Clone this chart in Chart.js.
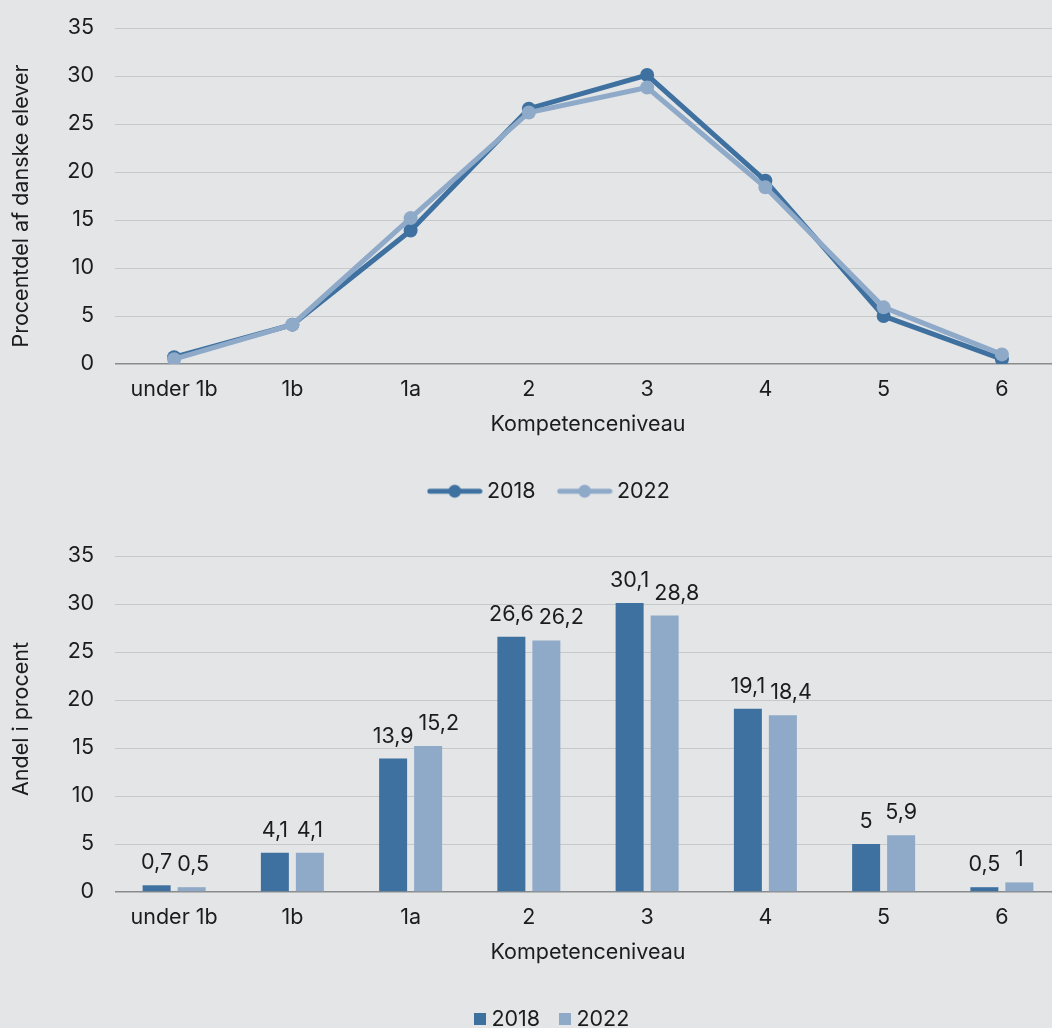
<!DOCTYPE html>
<html lang="da">
<head>
<meta charset="utf-8">
<title>Kompetenceniveau 2018 og 2022</title>
<script src="https://cdn.jsdelivr.net/npm/chart.js@4.4.1/dist/chart.umd.min.js"></script>
<style>
  html, body { margin: 0; padding: 0; width: 1052px; height: 1028px; overflow: hidden; background: #e4e5e7; }
  .panel { position: absolute; left: 0; width: 1061px; height: 528px; }
  #linePanel { top: 0; }
  #barPanel { top: 528px; }
</style>
</head>
<body>
<div class="panel" id="linePanel"><canvas id="lineChart" width="1061" height="528"></canvas></div>
<div class="panel" id="barPanel"><canvas id="barChart" width="1061" height="528"></canvas></div>
<script>
// Kompetenceniveauer (x-akse)
const levels = ['under 1b', '1b', '1a', '2', '3', '4', '5', '6'];
// Årgange
const years = ['2018', '2022'];
// Andel af elever i procent pr. niveau
const share2018 = [0.7, 4.1, 13.9, 26.6, 30.1, 19.1, 5, 0.5];
const share2022 = [0.5, 4.1, 15.2, 26.2, 28.8, 18.4, 5.9, 1];
// Y-aksens inddeling
const yMin = 0;
const yMax = 35;
const yStep = 5;

const DARK = '#3e71a0';
const LIGHT = '#8eaac8';
const TEXT = '#1c1c1c';
const GRID = '#c7c8ca';
const ZERO = '#8a8b8d';
const FONT = 'Inter, "Noto Sans", sans-serif';
const SIZE = 21.5;

Chart.defaults.font.family = FONT;
Chart.defaults.font.size = SIZE;
Chart.defaults.color = TEXT;

const fmt = v => String(v).replace('.', ',');

// Legend marker: a short line with a dot in the middle
function lineMarker(color) {
  const c = document.createElement('canvas');
  c.width = 56; c.height = 16;
  const g = c.getContext('2d');
  g.strokeStyle = color; g.lineWidth = 5; g.lineCap = 'round';
  g.beginPath(); g.moveTo(3, 8); g.lineTo(53, 8); g.stroke();
  g.fillStyle = color;
  g.beginPath(); g.arc(28, 8, 6.5, 0, Math.PI * 2); g.fill();
  return c;
}
// Legend marker: small filled square
function squareMarker(color) {
  const c = document.createElement('canvas');
  c.width = 12; c.height = 12;
  const g = c.getContext('2d');
  g.fillStyle = color; g.fillRect(0, 0, 12, 12);
  return c;
}

// Moves the legend sideways after layout
const legendShift = {
  id: 'legendShift',
  afterLayout(chart, args, opts) {
    const lg = chart.legend;
    if (lg && opts.dx) { lg.left += opts.dx; lg.right += opts.dx; }
  }
};

// Rotated value-axis title, placed beside the plot area
const sideTitle = {
  id: 'sideTitle',
  afterDraw(chart, args, opts) {
    if (!opts.text) return;
    const a = chart.chartArea;
    const ctx = chart.ctx;
    ctx.save();
    ctx.font = SIZE + 'px ' + FONT;
    ctx.fillStyle = TEXT;
    ctx.translate(opts.x, (a.top + a.bottom) / 2 + opts.dy);
    ctx.rotate(-Math.PI / 2);
    ctx.textAlign = 'center';
    ctx.textBaseline = 'middle';
    ctx.fillText(opts.text, 0, 0);
    ctx.restore();
  }
};

// Value labels above each bar; within a group a label that would collide
// with its left neighbour is pushed to the right.
const barValueLabels = {
  id: 'barValueLabels',
  afterDatasetsDraw(chart, args, opts) {
    if (!opts.display) return;
    const ctx = chart.ctx;
    ctx.save();
    ctx.font = SIZE + 'px ' + FONT;
    ctx.fillStyle = TEXT;
    ctx.textAlign = 'center';
    ctx.textBaseline = 'alphabetic';
    const metas = chart.data.datasets.map((ds, i) => chart.getDatasetMeta(i));
    chart.data.labels.forEach((lab, j) => {
      let prevRight = -Infinity;
      chart.data.datasets.forEach((ds, i) => {
        const bar = metas[i].data[j];
        const text = fmt(ds.data[j]);
        const w = ctx.measureText(text).width;
        let cx = bar.x;
        if (cx - w / 2 < prevRight + opts.minGap) cx = prevRight + opts.minGap + w / 2;
        ctx.fillText(text, cx, bar.y - opts.gap);
        prevRight = cx + w / 2;
      });
    });
    ctx.restore();
  }
};

function yScale() {
  return {
    min: yMin, max: yMax,
    ticks: { stepSize: yStep, padding: 21, color: TEXT, font: { size: SIZE } },
    grid: {
      drawTicks: false,
      color: c => (c.tick && c.tick.value === 0 ? ZERO : GRID),
      lineWidth: c => (c.tick && c.tick.value === 0 ? 1.5 : 1)
    },
    border: { display: false },
    afterFit: s => { s.width = 115; s.paddingTop = 0; s.paddingBottom = 0; }
  };
}

function xScale(height, titleBottom) {
  return {
    offset: true,
    grid: { display: false, drawTicks: false },
    border: { display: false },
    ticks: { padding: 13.1, maxRotation: 0, autoSkip: false, color: TEXT, font: { size: SIZE } },
    title: { display: true, text: 'Kompetenceniveau', color: TEXT, font: { size: SIZE }, padding: { top: 0, bottom: titleBottom } },
    afterFit: s => { s.height = height; s.paddingLeft = 0; s.paddingRight = 0; }
  };
}

function draw() {
  const lineMarkers = [lineMarker(DARK), lineMarker(LIGHT)];
  const squareMarkers = [squareMarker(DARK), squareMarker(LIGHT)];

  new Chart(document.getElementById('lineChart'), {
    type: 'line',
    data: {
      labels: levels,
      datasets: [
        { label: years[0], data: share2018, borderColor: DARK, backgroundColor: DARK, borderWidth: 5,
          pointRadius: 7, pointBorderWidth: 0, pointBackgroundColor: DARK, tension: 0, order: 1 },
        { label: years[1], data: share2022, borderColor: LIGHT, backgroundColor: LIGHT, borderWidth: 5,
          pointRadius: 7, pointBorderWidth: 0, pointBackgroundColor: LIGHT, tension: 0, order: 0 }
      ]
    },
    options: {
      responsive: false, animation: false, devicePixelRatio: 1,
      layout: { autoPadding: false, padding: { top: 28, left: 0, right: 0, bottom: 16 } },
      scales: { x: xScale(89, 16), y: yScale() },
      plugins: {
        tooltip: { enabled: false },
        legendShift: { dx: 21 },
        sideTitle: { text: 'Procentdel af danske elever', x: 22, dy: 10 },
        legend: {
          position: 'bottom',
          labels: {
            usePointStyle: true, pointStyleWidth: 43, padding: 27.5, color: TEXT, font: { size: SIZE },
            sort: (a, b) => a.datasetIndex - b.datasetIndex,
            generateLabels: chart => {
              const items = Chart.defaults.plugins.legend.labels.generateLabels(chart);
              items.forEach(it => { it.pointStyle = lineMarkers[it.datasetIndex]; });
              return items;
            }
          }
        }
      }
    },
    plugins: [legendShift, sideTitle]
  });

  new Chart(document.getElementById('barChart'), {
    type: 'bar',
    data: {
      labels: levels,
      datasets: [
        { label: years[0], data: share2018, backgroundColor: DARK, borderWidth: 0 },
        { label: years[1], data: share2022, backgroundColor: LIGHT, borderWidth: 0 }
      ]
    },
    options: {
      responsive: false, animation: false, devicePixelRatio: 1,
      categoryPercentage: 0.592, barPercentage: 0.8,
      layout: { autoPadding: false, padding: { top: 28, left: 0, right: 0, bottom: 16 } },
      scales: { x: xScale(93, 20), y: yScale() },
      plugins: {
        tooltip: { enabled: false },
        legendShift: { dx: 23.5 },
        sideTitle: { text: 'Andel i procent', x: 22, dy: -5 },
        barValueLabels: { display: true, gap: 16, minGap: 5 },
        legend: {
          position: 'bottom',
          labels: {
            usePointStyle: true, pointStyleWidth: 2, padding: 23.5, color: TEXT, font: { size: SIZE },
            generateLabels: chart => {
              const items = Chart.defaults.plugins.legend.labels.generateLabels(chart);
              items.forEach(it => { it.pointStyle = squareMarkers[it.datasetIndex]; });
              return items;
            }
          }
        }
      }
    },
    plugins: [legendShift, sideTitle, barValueLabels]
  });
}

if (document.fonts && document.fonts.load) {
  document.fonts.load(SIZE + 'px Inter').then(draw, draw);
} else {
  draw();
}
</script>
</body>
</html>
